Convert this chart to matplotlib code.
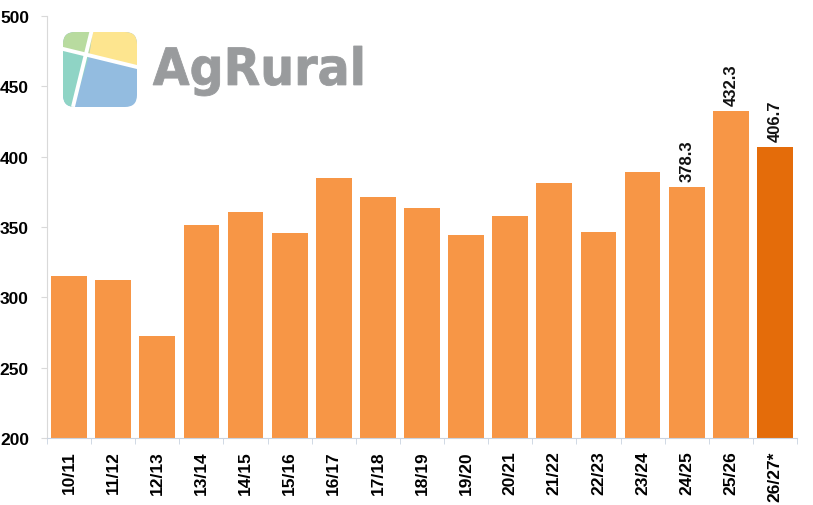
import matplotlib
matplotlib.use("Agg")
import matplotlib.pyplot as plt
from matplotlib.patches import FancyBboxPatch, Polygon, PathPatch
from matplotlib.textpath import TextPath
from matplotlib.font_manager import FontProperties
from matplotlib.transforms import Affine2D

# ---- data ----
seasons = ["10/11", "11/12", "12/13", "13/14", "14/15", "15/16", "16/17", "17/18",
           "18/19", "19/20", "20/21", "21/22", "22/23", "23/24", "24/25", "25/26", "26/27*"]
production = [315.2, 312.6, 272.8, 351.2, 360.9, 345.6, 384.8, 371.1,
              363.7, 344.6, 357.8, 381.5, 346.6, 389.3, 378.3, 432.3, 406.7]
labelled = ["24/25", "25/26", "26/27*"]
yticks = [200, 250, 300, 350, 400, 450, 500]

base_color = "#F79646"
hl_color = "#E46C0A"

W, H = 813, 506
fig = plt.figure(figsize=(W / 100, H / 100), dpi=100)
ax = fig.add_axes([47 / W, 1 - 439 / H, 750 / W, 422 / H])

x = list(range(len(seasons)))
colors = [hl_color if s.endswith("*") else base_color for s in seasons]
ax.bar(x, production, width=0.81, color=colors, zorder=2)

for i, (s, v) in enumerate(zip(seasons, production)):
    if s in labelled:
        ax.annotate(f"{v:.1f}", (i, v), xytext=(0, 4.5), textcoords="offset points",
                    rotation=90, ha="center", va="bottom", fontsize=12,
                    fontweight="bold", family="Liberation Sans", color="#111111")

ax.set_xlim(-0.5, len(seasons) - 0.5)
ax.set_ylim(200, 500)
ax.set_yticks(yticks)
ax.set_yticklabels([str(t) for t in yticks], fontsize=12.5, fontweight="bold",
                   family="Liberation Sans")
ax.set_xticks(x)
ax.set_xticklabels(seasons, rotation=90, fontsize=12.5, fontweight="bold",
                   family="Liberation Sans", va="top")
ax.tick_params(axis="x", length=0, pad=9)
ax.set_xticks([i + 0.5 for i in range(-1, len(seasons))], minor=True)
ax.tick_params(axis="x", which="minor", length=4, color="#C9D3E0")
ax.tick_params(axis="y", length=4, color="#D9D9D9", pad=9)
for sp in ["top", "right"]:
    ax.spines[sp].set_visible(False)
ax.spines["left"].set_color("#D9D9D9")
ax.spines["bottom"].set_color("#C9D3E0")

# ---- logo watermark (figure pixel coordinates) ----
lax = fig.add_axes([0, 0, 1, 1], zorder=5)
lax.set_xlim(0, W)
lax.set_ylim(H, 0)
lax.axis("off")
lax.patch.set_alpha(0)

box = FancyBboxPatch((63, 33), 74, 75, boxstyle="round,pad=0,rounding_size=12",
                     facecolor="#93BCE0", edgecolor="none")
lax.add_patch(box)
ix, iy = 89.3, 56.0
pieces = [
    ([(55, 20), (94.5, 20), (ix, iy), (55, 48.0)], "#B8DB9F"),    # green
    ([(94.5, 20), (150, 20), (150, 71.2), (ix, iy)], "#FDE58F"),  # yellow
    ([(55, 48.0), (ix, iy), (70, 120), (55, 120)], "#8FD4C5"),    # teal
]
for pts, c in pieces:
    p = Polygon(pts, closed=True, facecolor=c, edgecolor="none")
    lax.add_patch(p)
    p.set_clip_path(box)
for (x0, y0), (x1, y1) in [((55, 48.0), (150, 71.2)), ((94.5, 20), (70, 120))]:
    ln, = lax.plot([x0, x1], [y0, y1], color="white", lw=2.8, solid_capstyle="butt")
    ln.set_clip_path(box)

fp = FontProperties(family="DejaVu Sans", weight="bold")
tp = TextPath((0, 0), "AgRural", prop=fp, size=50)
ext = tp.get_extents()
tx0, tx1, ty0, ty1 = 153, 362, 47, 97
sx = (tx1 - tx0) / ext.width
sy = (ty1 - ty0) / ext.height
tr = Affine2D().translate(-ext.x0, -ext.y1).scale(sx, -sy).translate(tx0, ty0)
path = tr.transform_path(tp)
lax.add_patch(PathPatch(path, facecolor="#999B9D", edgecolor="#999B9D", lw=0.6))

fig.savefig("out.png", dpi=100, facecolor="white")
